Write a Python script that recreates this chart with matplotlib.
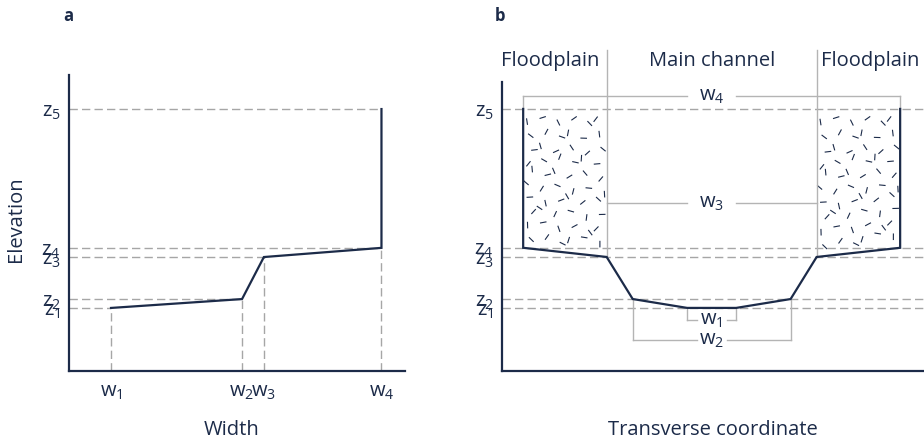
import matplotlib.pyplot as plt
from matplotlib.collections import LineCollection
import numpy as np

plt.rcParams['font.family'] = ['Open Sans', 'DejaVu Sans']
plt.rcParams['mathtext.fontset'] = 'custom'
plt.rcParams['mathtext.rm'] = 'Open Sans'
plt.rcParams['mathtext.it'] = 'Open Sans'

navy = '#1c2b49'
dash_grey = '#a6a6a6'
brk_grey = '#b4b4b4'
fs = 14.5

# elevations (shared by both panels)
z = [2.13, 2.43, 3.85, 4.16, 8.85]
z_labels = ['$\\mathregular{z_1}$', '$\\mathregular{z_2}$', '$\\mathregular{z_3}$',
            '$\\mathregular{z_4}$', '$\\mathregular{z_5}$']

# panel a: cumulative widths
w_a = [1.25, 5.15, 5.8, 9.3]
w_labels = ['$\\mathregular{w_1}$', '$\\mathregular{w_2}$', '$\\mathregular{w_3}$',
            '$\\mathregular{w_4}$']

# panel b: symmetric cross-section
w_b = [1.46, 4.70, 6.25, 11.22]
center_b = 6.24
bracket_y = [1.72, 1.05, 5.68, 9.29]   # w1, w2 below; w3 mid; w4 top
header_labels = ['Floodplain', 'Main channel', 'Floodplain']

fig = plt.figure(figsize=(9.24, 4.46), dpi=100)
ax1 = fig.add_axes([0.0747, 0.1682, 0.3636, 0.6636])
ax2 = fig.add_axes([0.5433, 0.1682, 0.4567, 0.6480])

for ax in (ax1, ax2):
    for s in ('top', 'right'):
        ax.spines[s].set_visible(False)
    for s in ('left', 'bottom'):
        ax.spines[s].set_color(navy)
        ax.spines[s].set_linewidth(1.6)
    ax.tick_params(length=0, labelsize=fs, colors=navy)
    ax.tick_params(axis='y', pad=6)
    ax.tick_params(axis='x', pad=8)
    ax.set_yticks(z)
    ax.set_yticklabels(z_labels)

dash = dict(color=dash_grey, lw=1.0, dashes=(6, 3))

# ---- panel a ----
ax1.set_xlim(0, 10)
ax1.set_ylim(0, 10)
ax1.set_xticks(w_a)
ax1.set_xticklabels(w_labels)
w_for_z = [w_a[0], w_a[1], w_a[2], w_a[3], w_a[3]]
for zi, wi in zip(z, w_for_z):
    ax1.plot([0, wi], [zi, zi], **dash)
for wi, zi in zip(w_a, z[:4]):
    ax1.plot([wi, wi], [0, zi], **dash)
ax1.plot(w_a + [w_a[3]], z, color=navy, lw=1.6, solid_joinstyle='miter')

# ---- panel b ----
xmax_b = 12.56
ax2.set_xlim(0, xmax_b)
ax2.set_ylim(0, 9.76)
ax2.set_xticks([])
for zi in z:
    ax2.plot([0, xmax_b], [zi, zi], clip_on=False, **dash)

lefts = [center_b - w / 2 for w in w_b]
rights = [center_b + w / 2 for w in w_b]

# floodplain texture: short dashes on a jittered grid (golden-ratio sequence)
phi = (np.sqrt(5) - 1) / 2
segs = []
for x0, x1, zb0, zb1 in [(lefts[3], lefts[2], z[3], z[2]), (rights[2], rights[3], z[2], z[3])]:
    k = 0
    nx, ny = 6, 10
    for i in range(nx):
        for j in range(ny):
            k += 1
            fx = (i + 0.5 + 0.7 * ((k * phi) % 1 - 0.5)) / nx
            fy = (j + 0.5 + 0.7 * ((k * phi * phi * 3) % 1 - 0.5)) / ny
            xc = x0 + fx * (x1 - x0)
            zbot = zb0 + fx * (zb1 - zb0)
            yc = zbot + 0.2 + fy * (z[4] - zbot - 0.4)
            ang = np.pi * ((k * 0.7548776662) % 1)
            L = 3.3
            dx = L * np.cos(ang) / 33.6
            dy = L * np.sin(ang) / 29.6
            segs.append([(xc - dx, yc - dy), (xc + dx, yc + dy)])
ax2.add_collection(LineCollection(segs, colors=navy, linewidths=0.8))

# profile
px = [lefts[3], lefts[3], lefts[2], lefts[1], lefts[0], rights[0], rights[1], rights[2], rights[3], rights[3]]
pz = [z[4], z[3], z[2], z[1], z[0], z[0], z[1], z[2], z[3], z[4]]
ax2.plot(px, pz, color=navy, lw=1.6, solid_joinstyle='miter', zorder=5)

# separators between floodplain and main channel
top_sep = 10.84
for xs in (lefts[2], rights[2]):
    ax2.plot([xs, xs], [z[2], top_sep], color=brk_grey, lw=1.0, clip_on=False)

brk = dict(color=brk_grey, lw=1.0, clip_on=False)
gaps = [0.45, 0.45, 0.73, 0.73]
base_z = [z[0], z[1], None, z[4]]
for i in range(4):
    l, r, yb, g = lefts[i], rights[i], bracket_y[i], gaps[i]
    ax2.plot([l, center_b - g], [yb, yb], **brk)
    ax2.plot([center_b + g, r], [yb, yb], **brk)
    if base_z[i] is not None:
        ax2.plot([l, l], [base_z[i], yb], **brk)
        ax2.plot([r, r], [base_z[i], yb], **brk)
    ax2.text(center_b, yb, w_labels[i], ha='center', va='center', fontsize=fs,
             color=navy, clip_on=False)

header_x = [lefts[2] - 0.22, center_b, rights[2] + 0.12]
header_ha = ['right', 'center', 'left']
for hx, ht, ha in zip(header_x, header_labels, header_ha):
    ax2.text(hx, 10.47, ht, ha=ha, va='center', fontsize=fs, color=navy, clip_on=False)

# axis titles and panel letters
fig.text(232 / 924, 1 - 430 / 446, 'Width', ha='center', va='center', fontsize=fs, color=navy)
fig.text(713 / 924, 1 - 430 / 446, 'Transverse coordinate', ha='center', va='center',
         fontsize=fs, color=navy)
fig.text(16 / 924, 1 - 219 / 446, 'Elevation', ha='center', va='center', rotation=90,
         fontsize=fs, color=navy)
fig.text(68 / 924, 1 - 16 / 446, 'a', ha='center', va='center', fontsize=12,
         fontweight='bold', color=navy)
fig.text(500 / 924, 1 - 16 / 446, 'b', ha='center', va='center', fontsize=12,
         fontweight='bold', color=navy)

fig.savefig('out.png', dpi=100)
